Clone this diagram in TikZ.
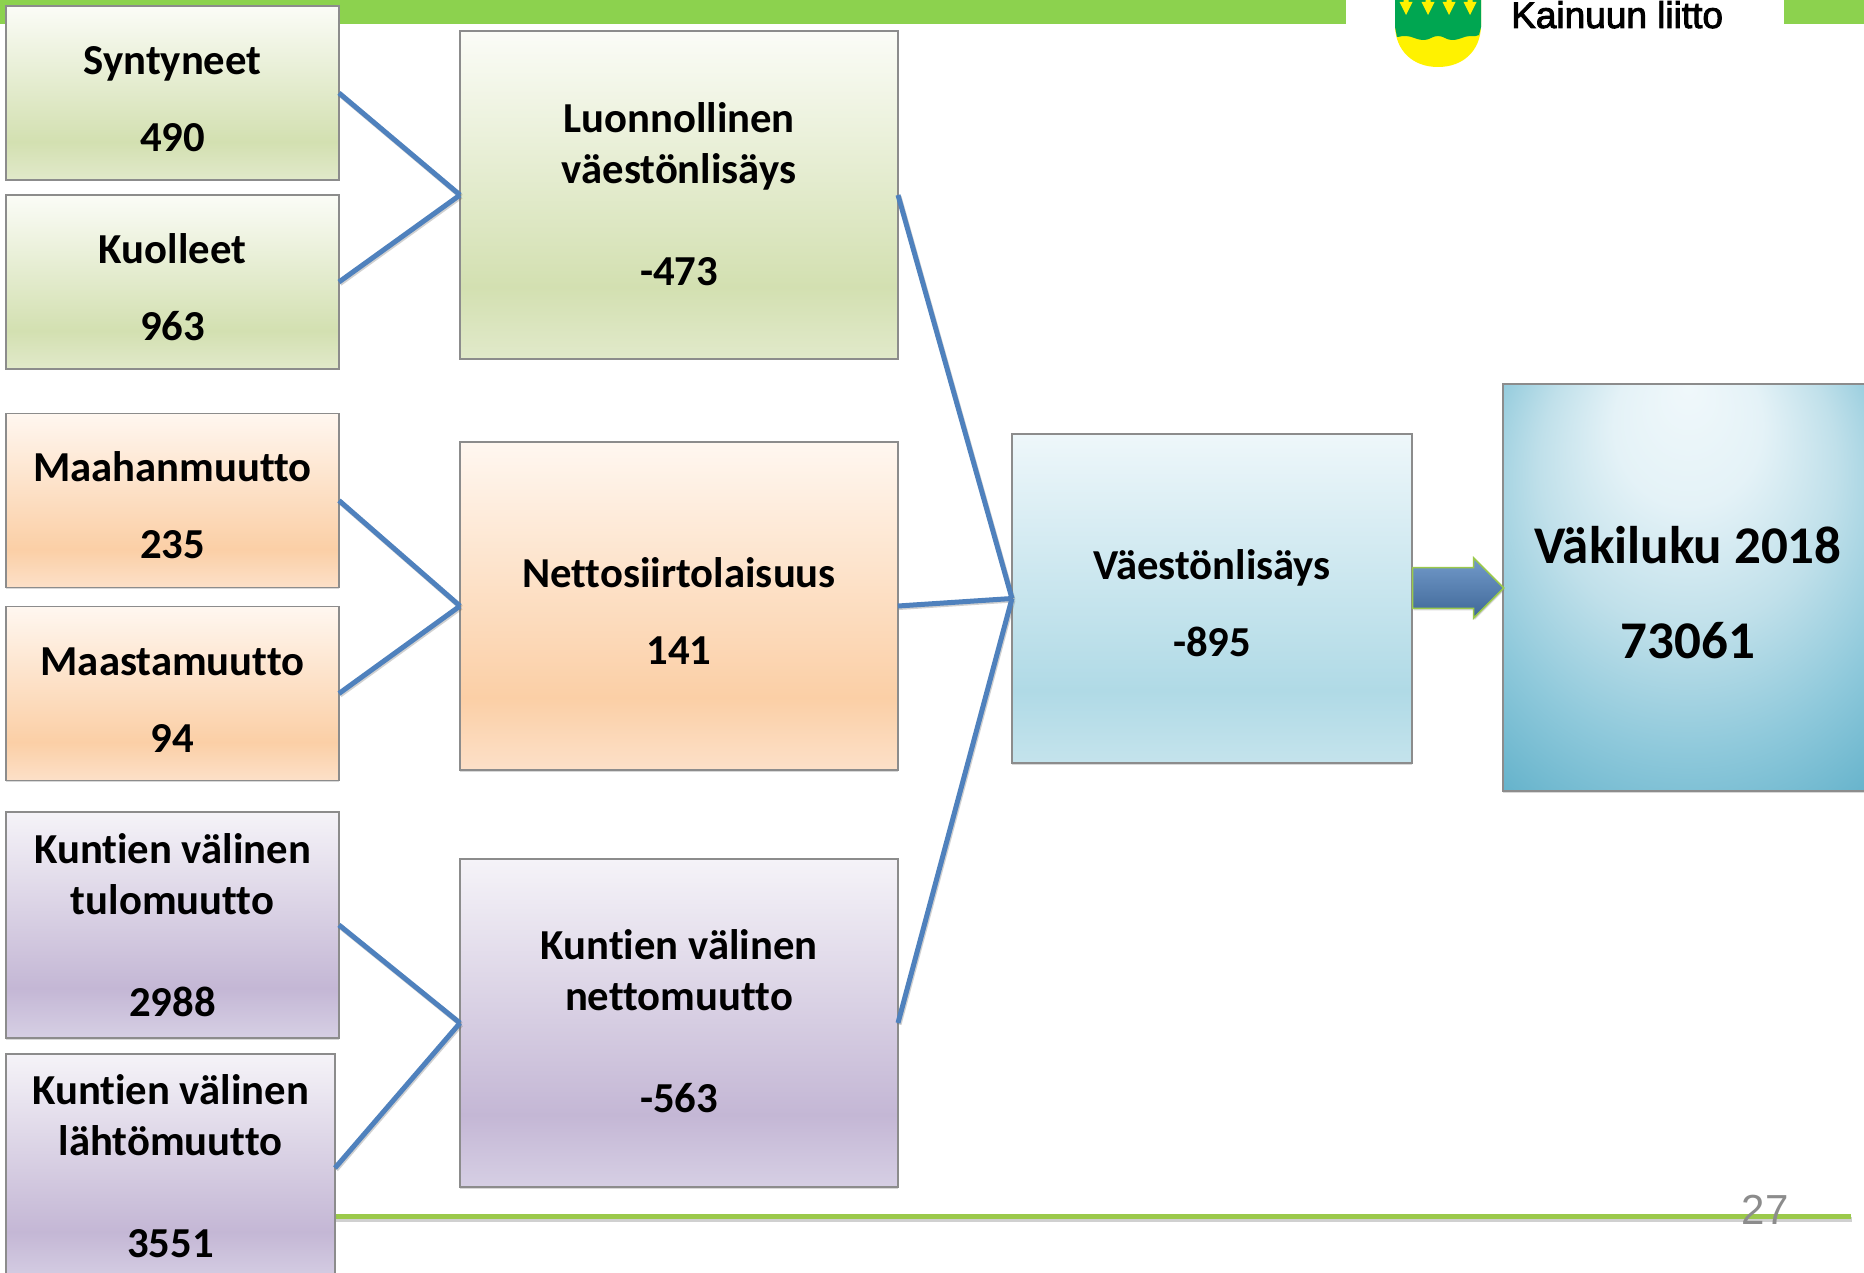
\documentclass[tikz,border=0pt]{standalone}
\usepackage{fontspec}
\setmainfont[Ligatures=NoCommon]{Carlito}
\newfontfamily\arialfont{Liberation Sans}
\newfontfamily\logofont[FakeBold=2.5]{Liberation Sans}
\usetikzlibrary{shapes.arrows, shadows}
\definecolor{bargreen}{HTML}{8CD24E}
\definecolor{rulegreen}{HTML}{9BC94B}
\definecolor{linkblue}{HTML}{4F81BD}
\definecolor{edgegray}{HTML}{8C8C8C}
\definecolor{logogreen}{HTML}{00A651}
\definecolor{logoyellow}{HTML}{FFF200}
\definecolor{greentop}{HTML}{FBFCF7}
\definecolor{greenmid}{HTML}{D3E0B1}
\definecolor{greenend}{HTML}{E1E9CA}
\definecolor{orangetop}{HTML}{FFF7F0}
\definecolor{orangemid}{HTML}{FBCFA6}
\definecolor{orangeend}{HTML}{FCE0C8}
\definecolor{purpletop}{HTML}{F5F3F8}
\definecolor{purplemid}{HTML}{C4B7D5}
\definecolor{purpleend}{HTML}{D6CFE4}
\definecolor{bluetop}{HTML}{EEF7FA}
\definecolor{bluemid}{HTML}{B0DAE6}
\definecolor{blueend}{HTML}{C4E3EC}
\definecolor{glowa}{HTML}{F0F8FB}
\definecolor{glowb}{HTML}{E4F2F7}
\definecolor{glowc}{HTML}{C0E0EA}
\definecolor{glowd}{HTML}{8FC9DB}
\definecolor{glowe}{HTML}{62B1CA}
\definecolor{glowf}{HTML}{46A3C1}
\pgfdeclareverticalshading{greenfill}{100bp}{color(0bp)=(greenend); color(25bp)=(greenend); color(36bp)=(greenmid); color(75bp)=(greentop); color(100bp)=(greentop)}
\pgfdeclareverticalshading{orangefill}{100bp}{color(0bp)=(orangeend); color(25bp)=(orangeend); color(36bp)=(orangemid); color(75bp)=(orangetop); color(100bp)=(orangetop)}
\pgfdeclareverticalshading{purplefill}{100bp}{color(0bp)=(purpleend); color(25bp)=(purpleend); color(36bp)=(purplemid); color(75bp)=(purpletop); color(100bp)=(purpletop)}
\pgfdeclareverticalshading{bluefill}{100bp}{color(0bp)=(blueend); color(25bp)=(blueend); color(36bp)=(bluemid); color(75bp)=(bluetop); color(100bp)=(bluetop)}
\pgfdeclareradialshading{glowfill}{\pgfpoint{0bp}{25bp}}{color(0bp)=(glowa); color(10bp)=(glowb); color(20bp)=(glowc); color(30bp)=(glowd); color(40bp)=(glowe); color(50bp)=(glowf)}
\newcommand{\lift}{\rule{0pt}{40pt}}
\tikzstyle{box} = [rectangle, draw=edgegray, line width=1.5pt, inner sep=0pt, outer sep=0pt, align=center, font=\fontsize{42.7}{51}\selectfont\bfseries, drop shadow={shadow xshift=0pt, shadow yshift=-1.5pt, opacity=.3}]
\tikzstyle{smallbox} = [box, minimum width=333pt, minimum height=174pt]
\tikzstyle{midbox} = [box, minimum width=438pt, minimum height=328pt]
\tikzstyle{link} = [draw=linkblue, line width=5pt, preaction={draw=black!60, line width=5pt, opacity=.3, transform canvas={xshift=1pt, yshift=-1.5pt}}]
\tikzstyle{bigarrow} = [single arrow, draw=rulegreen, line width=1.5pt, inner sep=0pt, outer sep=0pt, text width=0pt, text height=29pt, text depth=0pt, minimum height=91pt, minimum width=60pt, single arrow head indent=0pt, top color=linkblue!80!white, bottom color=linkblue!80!black, drop shadow={shadow xshift=1pt, shadow yshift=-2pt, opacity=.3}]
\begin{document}
\begin{tikzpicture}[x=1pt, y=-1pt, node distance=189pt]
\clip [use as bounding box] (0,0) rectangle (1864,1273);
\fill [white] (0,0) rectangle (1864,1273);
% top bar and logo
\fill [bargreen] (0,0) rectangle (1346,24);
\fill [bargreen] (1784,0) rectangle (1864,24);
\fill [logoyellow] (1395,0) -- (1395,27) .. controls (1396,50) and (1412,67) .. (1438,67) .. controls (1464,67) and (1480,50) .. (1481,27) -- (1481,0) -- cycle;
\fill [logogreen] (1395,0) -- (1395,27) -- (1397,37) .. controls (1401,37) and (1403,35) .. (1406,36) .. controls (1412,36) and (1416,40) .. (1424,40) .. controls (1430,40) and (1432,36) .. (1438,36) .. controls (1444,36) and (1446,40) .. (1452,40) .. controls (1460,40) and (1464,36) .. (1470,36) .. controls (1474,36) and (1476,37) .. (1479,35) -- (1481,27) -- (1481,0) -- cycle;
\foreach \x in {1406,1428,1449,1470}
	\fill [logoyellow] (\x-2.5,0) -- (\x-2.5,2) -- (\x-6.5,2) -- (\x,15) -- (\x+6.5,2) -- (\x+2.5,2) -- (\x+2.5,0) -- cycle;
\node (logotext) [anchor=base west, inner sep=0pt, font=\fontsize{37}{37}\selectfont\logofont] at (1511,28) {Kainuun liitto};
% bottom rule
\coordinate (ruleleft) at (335,1216.5);
\coordinate (ruleright) at (1851,1216.5);
\draw [rulegreen, line width=5pt, preaction={draw=black!60, line width=5pt, opacity=.3, transform canvas={xshift=1pt, yshift=-3pt}}] (ruleleft) -- (ruleright);
% left column
\node (syn) [smallbox, shading=greenfill] at (172.5,93) {\lift Syntyneet\\[26pt]490};
\node (kuo) [smallbox, shading=greenfill, below of=syn] {\lift Kuolleet\\[26pt]963};
\node (maa) [smallbox, shading=orangefill, below of=kuo, node distance=218.5pt] {\lift Maahanmuutto\\[26pt]235};
\node (mas) [smallbox, shading=orangefill, below of=maa, node distance=193pt] {\lift Maastamuutto\\[26pt]94};
\node (tulo) [smallbox, shading=purplefill, below of=mas, node distance=231.5pt, minimum height=226pt] {Kuntien välinen\\tulomuutto\\[51pt]2988};
\node (lah) [smallbox, shading=purplefill, below of=tulo, node distance=243pt, xshift=-2pt, minimum width=329pt, minimum height=228pt] {Kuntien välinen\\lähtömuutto\\[51pt]3551\rule[-4pt]{0pt}{0pt}};
% middle column
\node (luo) [midbox, shading=greenfill] at (679,195) {Luonnollinen\\väestönlisäys\\[51pt]-473\rule[-2.4pt]{0pt}{0pt}};
\node (net) [midbox, shading=orangefill, below of=luo, node distance=411pt] {\lift Nettosiirtolaisuus\\[26pt]141};
\node (kun) [midbox, shading=purplefill, below of=net, node distance=417pt] {Kuntien välinen\\nettomuutto\\[51pt]-563\rule[-4.8pt]{0pt}{0pt}};
% result boxes
\node (vae) [box, shading=bluefill, minimum width=400pt, minimum height=329pt] at (1212,598.5) {\lift Väestönlisäys\\[26pt]-895};
\node (vak) [box, shading=glowfill, minimum width=370pt, minimum height=407pt, font=\fontsize{53}{62}\selectfont\bfseries] at (1688,587.5) {\rule{0pt}{48pt}Väkiluku 2018\\[33pt]73061};
\node (pil) [bigarrow] at (1448,588) {};
% connectors
\draw [link] (syn.east) -- (luo.west);
\draw [link] (kuo.east) -- (luo.west);
\draw [link] (maa.east) -- (net.west);
\draw [link] (mas.east) -- (net.west);
\draw [link] (tulo.east) -- (kun.west);
\draw [link] (lah.east) -- (kun.west);
\draw [link] (luo.east) -- (vae.west);
\draw [link] (net.east) -- (vae.west);
\draw [link] (kun.east) -- (vae.west);
% page number
\node (pagenr) [inner sep=0pt, text=edgegray, font=\fontsize{42}{42}\selectfont\arialfont] at (1765,1210) {27};
\end{tikzpicture}
\end{document}
